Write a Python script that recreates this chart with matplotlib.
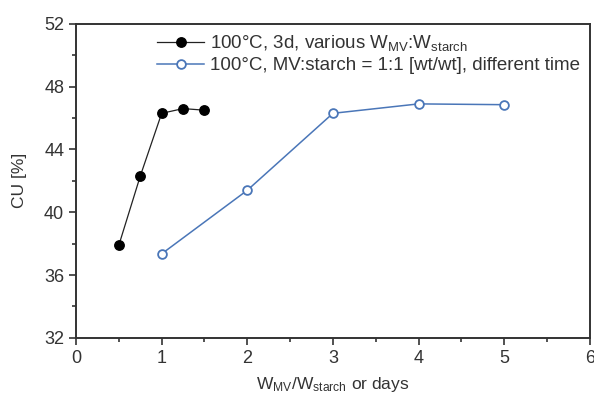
import matplotlib
matplotlib.use("Agg")
import matplotlib.pyplot as plt
from matplotlib.ticker import MultipleLocator

plt.rcParams["font.family"] = ["Liberation Sans", "DejaVu Sans"]
plt.rcParams["mathtext.fontset"] = "custom"
plt.rcParams["mathtext.rm"] = "Liberation Sans"
plt.rcParams["mathtext.it"] = "Liberation Sans"

# black series: 100°C, 3d, various ratio
ratio_x = [0.5, 0.75, 1.0, 1.25, 1.5]
ratio_cu = [37.9, 42.3, 46.3, 46.6, 46.5]

# blue series: 1:1, different time (days)
days_x = [1, 2, 3, 4, 5]
days_cu = [37.35, 41.4, 46.3, 46.9, 46.85]

label_ratio = r"100°C, 3d, various W$_{\mathrm{MV}}$:W$_{\mathrm{starch}}$"
label_days = "100°C, MV:starch = 1:1 [wt/wt], different time"

blue = "#4a76b8"

fig = plt.figure(figsize=(5.94, 3.97), dpi=100)
ax = fig.add_axes([0.128, 0.149, 0.865, 0.791])

ax.plot(ratio_x, ratio_cu, color="#222222", lw=0.9, marker="o", ms=6.8,
        mfc="black", mec="black", label=label_ratio)
ax.plot(days_x, days_cu, color=blue, lw=1.1, marker="o", ms=6.3,
        mfc="white", mec=blue, mew=1.3, label=label_days)

ax.set_xlim(0, 6)
ax.set_ylim(32, 52)
ax.xaxis.set_major_locator(MultipleLocator(1))
ax.xaxis.set_minor_locator(MultipleLocator(0.5))
ax.yaxis.set_major_locator(MultipleLocator(4))
ax.yaxis.set_minor_locator(MultipleLocator(2))
ax.tick_params(which="both", direction="out", width=1.2, labelsize=13, colors="#333333")
ax.tick_params(which="major", length=5)
ax.tick_params(which="minor", length=3)
for s in ax.spines.values():
    s.set_linewidth(1.4)
    s.set_color("#333333")

ax.set_xlabel(r"W$_{\mathrm{MV}}$/W$_{\mathrm{starch}}$ or days", fontsize=12.5, color="#333333", labelpad=6)
ax.set_ylabel("CU [%]", fontsize=12.5, color="#333333", labelpad=12)

leg = ax.legend(loc="upper left", bbox_to_anchor=(0.158, 0.97), frameon=False,
                fontsize=13.5, handlelength=2.5, handletextpad=0.3, labelspacing=0.22,
                borderaxespad=0, borderpad=0)
for t in leg.get_texts():
    t.set_color("#333333")

fig.savefig("out.png", dpi=100)
